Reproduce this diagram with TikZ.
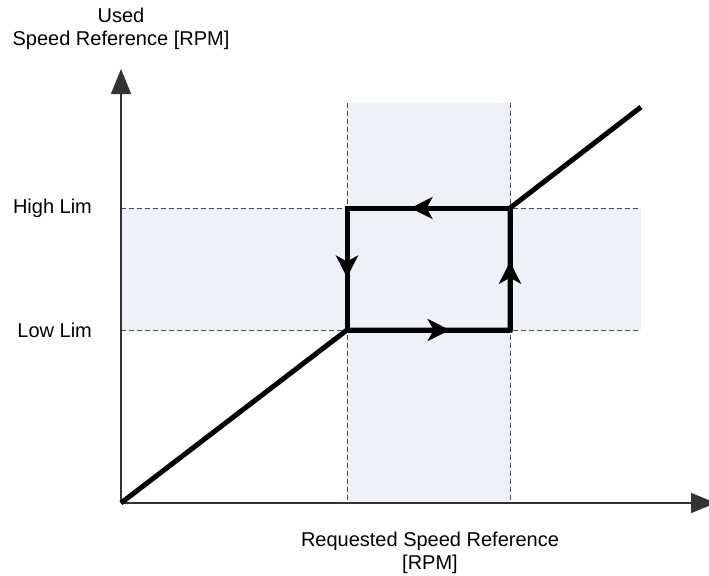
\documentclass[tikz,border=0pt]{standalone}
\usepackage{fontspec}
\setmainfont{Liberation Sans}
\usetikzlibrary{arrows.meta,decorations.markings}
\definecolor{bandfill}{RGB}{238,241,246}

\begin{document}
\begin{tikzpicture}[x=0.5pt,y=-0.5pt,font=\fontsize{10}{11.5}\selectfont,
    band/.style={fill=bandfill},
    limline/.style={draw=black!70,line width=0.5pt,dash pattern=on 2.5pt off 1.5pt},
    axisline/.style={draw=black!80,line width=0.75pt,-{Triangle[length=12.5pt,width=10pt]}},
    hyst/.style={line width=2.5pt},
    midarrow/.style={postaction={decorate},decoration={markings,
        mark=at position #1 with {\arrow{Stealth[length=11pt,width=11pt,inset=3pt]}}}}]
    \useasboundingbox (0,0) rectangle (709,575);
    % Punti del ciclo
    \coordinate (O) at (121,503);
    \coordinate (LL) at (347,330);
    \coordinate (LR) at (510,330);
    \coordinate (HR) at (510,208);
    \coordinate (HL) at (347,208);
    \coordinate (E) at (641,107);
    \coordinate (Xend) at (716,503);
    \coordinate (Yend) at (121,69);
    % Bande
    \fill[band] (O |- HL) rectangle (E |- LL);
    \fill[band] (347,103) rectangle (LR |- O);
    % Limiti tratteggiati
    \draw[limline] (O |- HL) -- (E |- HL);
    \draw[limline] (O |- LL) -- (E |- LL);
    \draw[limline] (347,103) -- (LL |- O);
    \draw[limline] (510,103) -- (LR |- O);
    % Assi
    \draw[axisline] (O) -- (Xend);
    \draw[axisline] (O) -- (Yend);
    % Ciclo di isteresi
    \draw[hyst] (O) -- (LL) -- (LR) -- (HR) -- (E);
    \draw[hyst] (HR) -- (HL) -- (LL);
    \draw[hyst,midarrow=0.63] (LL) -- (LR);
    \draw[hyst,midarrow=0.56] (LR) -- (HR);
    \draw[hyst,midarrow=0.61] (HR) -- (HL);
    \draw[hyst,midarrow=0.57] (HL) -- (LL);
    % Etichette
    \node[anchor=east] (high) at (99,208) {High Lim};
    \node[anchor=east] (low) at (99,330) {Low Lim};
    \node[align=center] (ylab) at (121,29) {Used\\Speed Reference [RPM]};
    \node[align=center] (xlab) at (430,553) {Requested Speed Reference\\{}[RPM]};
\end{tikzpicture}
\end{document}
